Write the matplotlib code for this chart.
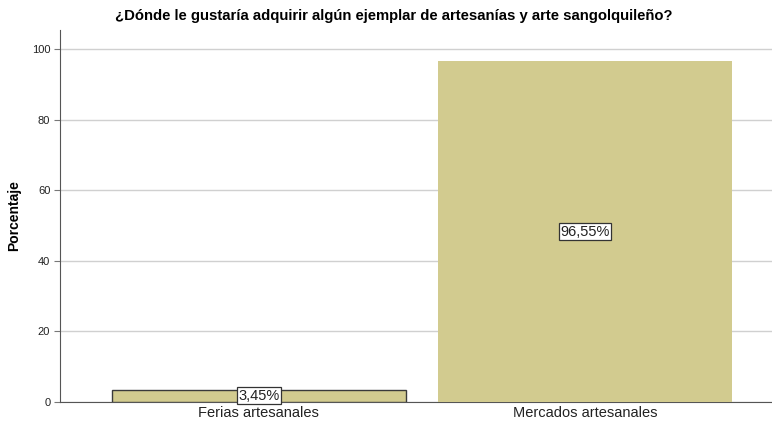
import matplotlib.pyplot as plt

plt.rcParams['font.family'] = ['Liberation Sans', 'DejaVu Sans']

categories = ["Ferias artesanales", "Mercados artesanales"]
values = [3.45, 96.55]
labels = ["3,45%", "96,55%"]
yticks = [0, 20, 40, 60, 80, 100]

fig = plt.figure(figsize=(7.72, 4.25), dpi=100)
ax = fig.add_axes([60 / 772, (425 - 402) / 425, (772 - 60) / 772, (402 - 30) / 425])

x = range(len(categories))
bars = ax.bar(x, values, width=0.9, color="#d2cb8f", zorder=3)
bars[0].set_edgecolor("#3a3a3a")
bars[0].set_linewidth(1)

for xi, v, lab in zip(x, values, labels):
    ax.text(xi, v / 2, lab, ha="center", va="center", fontsize=10.5, color="#222222", zorder=5,
            bbox=dict(boxstyle="square,pad=0.1", fc="white", ec="#333333", lw=0.9))

ax.set_xlim(-0.61, 1.574)
ax.set_ylim(0, 105.4)
ax.set_yticks(yticks)
ax.set_yticklabels([str(t) for t in yticks], fontsize=8, color="#222222")
ax.set_xticks(list(x))
ax.set_xticklabels(categories, fontsize=10.5, color="#222222")
ax.tick_params(axis="x", length=0, pad=3)
ax.tick_params(axis="y", length=4, width=0.8, color="#777777", pad=3)
ax.yaxis.grid(True, color="#d0d0d0", lw=1, zorder=0)

for s in ["top", "right"]:
    ax.spines[s].set_visible(False)
ax.spines["left"].set_color("#555555")
ax.spines["bottom"].set_color("#555555")

ax.set_ylabel("Porcentaje", fontsize=10, fontweight="bold", labelpad=8)
fig.text(394 / 772, 1 - 16 / 425,
         "¿Dónde le gustaría adquirir algún ejemplar de artesanías y arte sangolquileño?",
         ha="center", va="center", fontsize=10.7, fontweight="bold")

fig.savefig("out.png", dpi=100)
